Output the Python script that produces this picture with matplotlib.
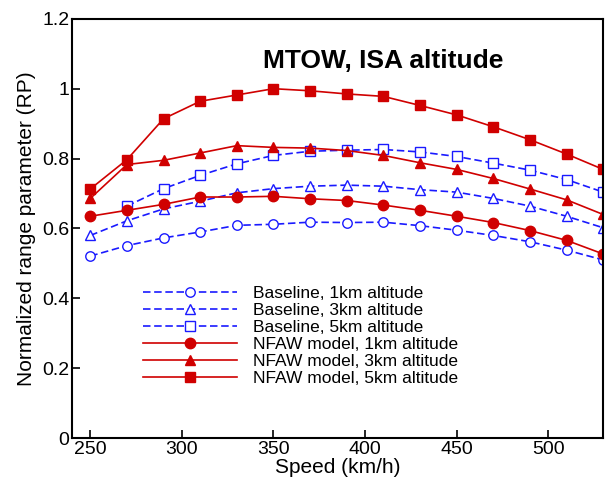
import numpy as np
import matplotlib
matplotlib.use('Agg')
import matplotlib.pyplot as plt

plt.rcParams['font.family'] = ['Liberation Sans', 'DejaVu Sans']

speed = [250, 270, 290, 310, 330, 350, 370, 390, 410, 430, 450, 470, 490, 510, 530]

base_1km = [0.521, 0.551, 0.573, 0.590, 0.609, 0.612, 0.618, 0.617, 0.618, 0.608, 0.595, 0.580, 0.562, 0.538, 0.510]
base_3km = [0.580, 0.622, 0.656, 0.678, 0.702, 0.714, 0.721, 0.724, 0.721, 0.711, 0.704, 0.686, 0.664, 0.635, 0.602]
# 5 km baseline starts at 270 km/h
speed_b5 = speed[1:]
base_5km = [0.664, 0.714, 0.752, 0.785, 0.809, 0.821, 0.824, 0.826, 0.819, 0.806, 0.787, 0.767, 0.740, 0.704]

nfaw_1km = [0.635, 0.652, 0.669, 0.690, 0.690, 0.692, 0.685, 0.680, 0.667, 0.652, 0.635, 0.617, 0.594, 0.566, 0.527]
nfaw_3km = [0.686, 0.783, 0.795, 0.816, 0.837, 0.832, 0.830, 0.823, 0.809, 0.788, 0.769, 0.743, 0.713, 0.682, 0.640]
nfaw_5km = [0.713, 0.797, 0.914, 0.964, 0.982, 1.000, 0.994, 0.985, 0.978, 0.952, 0.925, 0.891, 0.854, 0.813, 0.769]

blue = '#1a1aff'
red = '#d00000'

fig = plt.figure(figsize=(6.05, 4.82), dpi=100)
ax = fig.add_axes([0.119, 0.091, 0.878, 0.870])

dash = (0, (4.5, 2.2))
ax.plot(speed, base_1km, color=blue, linestyle=dash, lw=1.2, marker='o', ms=6.8,
        mfc='white', mec=blue, mew=1.0, label='Baseline, 1km altitude')
ax.plot(speed, base_3km, color=blue, linestyle=dash, lw=1.2, marker='^', ms=7,
        mfc='white', mec=blue, mew=1.0, label='Baseline, 3km altitude')
ax.plot(speed_b5, base_5km, color=blue, linestyle=dash, lw=1.2, marker='s', ms=6.5,
        mfc='white', mec=blue, mew=1.0, label='Baseline, 5km altitude')
ax.plot(speed, nfaw_1km, color=red, linestyle='-', lw=1.2, marker='o', ms=7.5,
        mfc=red, mec=red, label='NFAW model, 1km altitude')
ax.plot(speed, nfaw_3km, color=red, linestyle='-', lw=1.2, marker='^', ms=7,
        mfc=red, mec=red, label='NFAW model, 3km altitude')
ax.plot(speed, nfaw_5km, color=red, linestyle='-', lw=1.2, marker='s', ms=6.5,
        mfc=red, mec=red, label='NFAW model, 5km altitude')

ax.set_xlim(240, 530)
ax.set_ylim(0, 1.2)
ax.set_xticks([250, 300, 350, 400, 450, 500])
ax.set_yticks([0, 0.2, 0.4, 0.6, 0.8, 1, 1.2])
ax.set_yticklabels(['0', '0.2', '0.4', '0.6', '0.8', '1', '1.2'])
ax.tick_params(direction='in', length=6, width=1.2, labelsize=14, pad=2)
for s in ax.spines.values():
    s.set_linewidth(1.5)

ax.set_xlabel('Speed (km/h)', fontsize=15, labelpad=0)
ax.set_ylabel('Normalized range parameter (RP)', fontsize=15, labelpad=4)

ax.text(410, 1.08, 'MTOW, ISA altitude', fontsize=19, fontweight='bold',
        ha='center', va='center')

ax.legend(loc='upper left', bbox_to_anchor=(0.134, 0.362), frameon=False,
          fontsize=12.5, handlelength=5.4, handletextpad=0.9, labelspacing=0.1,
          borderpad=0, borderaxespad=0)

fig.savefig('out.png', dpi=100)
